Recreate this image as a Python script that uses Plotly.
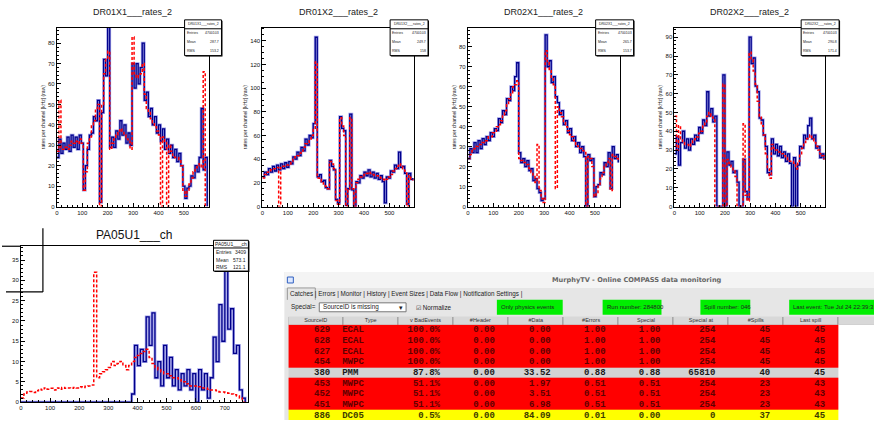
import plotly.graph_objects as go

W, H = 874, 423

# ---------------- data ----------------
BIN_TOP = 8     # channel width of each listed value (top histograms)
BIN_PA = 10     # channel width (PA05U1)

dr01x1_blue = [24, 33, 26, 31, 28, 34, 27, 35, 29, 34,
               28, 35, 31, 8, 20, 28, 35, 36, 44, 42,
               52, 2, 46, 72, 64, 88, 29, 34, 29, 37,
               33, 42, 35, 40, 31, 36, 30, 70, 58, 70,
               60, 68, 80, 52, 56, 44, 48, 40, 44, 36,
               40, 32, 38, 28, 33, 26, 30, 24, 28, 22,
               26, 20, 10, 4, 9, 10, 15, 14, 20, 17,
               24, 48, 18, 24, 0]
dr01x1_red = [27, 52, 28, 28, 29, 28, 30, 32, 31, 32,
              31, 33, 31, 8, 17, 31, 34, 40, 42, 48,
              50, 0, 50, 65, 72, 76, 28, 31, 33, 35,
              37, 38, 37, 35, 33, 32, 28, 83, 65, 63,
              64, 65, 70, 55, 48, 46, 43, 41, 39, 37,
              35, 0, 34, 32, 0, 30, 27, 25, 24, 24,
              23, 20, 8, 5, 8, 11, 14, 17, 19, 20,
              21, 19, 66, 0, 0]

dr01x2_blue = [25, 29, 27, 32, 29, 34, 30, 35, 31, 36,
               32, 37, 33, 38, 36, 42, 40, 46, 43, 50,
               47, 57, 52, 60, 58, 70, 143, 25, 27, 21,
               22, 16, 15, 39, 34, 31, 6, 3, 76, 66,
               64, 1, 15, 78, 14, 0, 21, 20, 26, 24,
               29, 26, 31, 25, 29, 24, 28, 23, 26, 21,
               3, 25, 24, 30, 29, 35, 32, 46, 33, 34,
               28, 2, 28, 23, 24]
dr01x2_red = [24, 27, 29, 30, 31, 32, 32, 33, 0, 33,
              34, 35, 35, 36, 38, 40, 42, 43, 45, 47,
              50, 53, 54, 57, 60, 65, 122, 24, 23, 21,
              19, 17, 15, 38, 36, 32, 5, 2, 75, 68,
              60, 0, 14, 75, 15, 0, 20, 23, 25, 26,
              27, 28, 29, 28, 27, 26, 26, 25, 24, 23,
              22, 23, 25, 27, 30, 32, 34, 36, 34, 32,
              30, 0, 26, 23, 22]

dr02x1_blue = [24, 29, 27, 32, 27, 33, 29, 34, 31, 35,
               33, 37, 35, 39, 38, 44, 42, 48, 46, 54,
               53, 60, 58, 65, 72, 27, 22, 24, 20, 23,
               18, 19, 13, 14, 9, 7, 3, 4, 86, 70,
               73, 62, 65, 55, 52, 46, 48, 41, 43, 37,
               39, 33, 35, 30, 32, 27, 30, 25, 0, 26,
               23, 24, 5, 10, 11, 17, 16, 22, 20, 27,
               9, 30, 24, 26, 22]
dr02x1_red = [24, 26, 28, 29, 30, 31, 31, 32, 33, 33,
              35, 35, 37, 37, 40, 41, 43, 46, 48, 51,
              54, 57, 60, 61, 63, 24, 23, 22, 22, 21,
              19, 17, 15, 12, 31, 8, 4, 2, 78, 72,
              68, 64, 61, 9, 50, 47, 45, 42, 40, 38,
              36, 35, 33, 31, 30, 29, 28, 27, 0, 25,
              24, 20, 5, 7, 11, 14, 17, 20, 22, 24,
              8, 26, 25, 24, 23]

dr02x2_blue = [28, 37, 22, 34, 40, 31, 36, 30, 36, 33,
               38, 35, 42, 39, 46, 43, 61, 48, 52, 45,
               48, 0, 0, 0, 70, 0, 29, 22, 24, 18,
               19, 13, 0, 0, 25, 8, 4, 90, 76, 79,
               64, 61, 47, 46, 38, 32, 18, 17, 36, 28,
               33, 27, 32, 26, 29, 24, 28, 23, 0, 26,
               0, 22, 32, 31, 38, 36, 43, 47, 36, 38,
               31, 32, 26, 28, 25]
dr02x2_red = [48, 30, 43, 36, 34, 33, 33, 32, 34, 35,
              36, 37, 39, 40, 43, 45, 48, 50, 48, 47,
              0, 0, 0, 0, 65, 0, 25, 23, 21, 19,
              16, 0, 0, 0, 44, 6, 3, 82, 78, 72,
              65, 56, 48, 43, 38, 28, 20, 15, 33, 31,
              30, 29, 29, 28, 27, 26, 25, 24, 24, 23,
              20, 24, 28, 31, 34, 36, 37, 38, 36, 34,
              32, 30, 28, 27, 25]

pa05u1_blue = [0, 0, 0, 0, 0, 0, 0, 0, 0, 0,
               0, 0, 0, 0, 0, 0, 0, 0, 0, 0,
               0, 0, 0, 0, 0, 0, 0, 0, 0, 0,
               0, 0, 0, 0, 0, 0, 0, 0,
               2, 14, 9, 13, 10, 21, 14, 22, 6, 10,
               4, 14, 6, 11, 4, 8, 3, 7, 4, 8,
               3, 7, 0, 8, 3, 7, 1, 6, 16, 10,
               24, 15, 36, 18, 23, 12, 14, 3, 1, 0]
pa05u1_red = [1, 2, 2.5, 2.6, 2.4, 2.8, 3.2, 3, 3.5, 3.2,
              3.4, 3.0, 3.5, 3.2, 3.6, 3.4, 3.5, 3.4, 3.6, 3.5,
              3.8, 3.6, 3.9, 4, 4.2, 32, 6, 7, 7.5, 8,
              8.5, 10, 9, 9.5, 10, 9, 8, 9, 10, 11,
              11.5, 12, 12.5, 13, 11, 9.5, 8.5, 8, 7.5, 7,
              7, 6.5, 6, 6, 5.5, 5, 5, 4.5, 4, 4,
              4, 3.8, 3.5, 3.5, 3.2, 3, 3, 2.8, 2.5, 2.5,
              2.3, 2.2, 2, 1.8, 1.5, 1, 0, 0]

top_titles = ["DR01X1___rates_2", "DR01X2___rates_2", "DR02X1___rates_2", "DR02X2___rates_2"]
top_means = ["287.7", "249.7", "265.7", "290.8"]
top_rms = ["153.2", "158", "153.7", "171.4"]
top_entries = ["4700103", "4700103", "4700103", "4700103"]
y_title = "rates per channel [kHz] (raw)"

pa_title = "PA05U1___ch"
pa_entries, pa_mean, pa_rms = "3409", "573.1", "121.1"

tbl_header = ["SourceID", "Type", "v BadEvents", "#Header", "#Data", "#Errors",
              "Special", "Special at", "#Spills", "Last spill", ""]
source_id = ["629", "628", "627", "454", "380", "453", "452", "451", "886"]
det_type = ["ECAL", "ECAL", "ECAL", "MWPC", "PMM", "MWPC", "MWPC", "MWPC", "DC05"]
bad_events = ["100.0%", "100.0%", "100.0%", "100.0%", "87.8%", "51.1%", "51.1%", "51.1%", "0.5%"]
n_header = ["0.00", "0.00", "0.00", "0.00", "0.00", "0.00", "0.00", "0.00", "0.00"]
n_data = ["0.00", "0.00", "0.00", "0.00", "33.52", "1.97", "3.51", "6.98", "84.09"]
n_errors = ["1.00", "1.00", "1.00", "1.00", "0.88", "0.51", "0.51", "0.51", "0.01"]
special = ["1.00", "1.00", "1.00", "1.00", "0.88", "0.51", "0.51", "0.51", "0.00"]
special_at = ["254", "254", "254", "254", "65810", "254", "254", "254", "0"]
n_spills = ["45", "45", "45", "45", "40", "23", "23", "23", "37"]
last_spill = ["45", "45", "45", "45", "45", "43", "43", "43", "45"]
row_status = ["red", "red", "red", "red", "gray", "red", "red", "red", "yellow"]

tabs = ["Catches", "Errors", "Monitor", "History", "Event Sizes", "Data Flow", "Notification Settings"]

# ---------------- helpers ----------------
def fx(p):
    return p / W

def fy(p):
    return 1 - p / H

fig = go.Figure()
shapes = []
annos = []

BLUE = "#00008b"
HALO = "rgba(70,70,210,0.5)"
RED = "#ff0000"
FONT = "Liberation Sans"

def hist_traces(xa, ya, xs, blue, red):
    fig.add_trace(go.Scatter(x=xs, y=blue, xaxis=xa, yaxis=ya, mode="lines",
                             line=dict(color=HALO, width=2.8, shape="hv"),
                             hoverinfo="skip", showlegend=False))
    fig.add_trace(go.Scatter(x=xs, y=blue, xaxis=xa, yaxis=ya, mode="lines",
                             line=dict(color=BLUE, width=1.3, shape="hv"),
                             showlegend=False))
    fig.add_trace(go.Scatter(x=xs, y=red, xaxis=xa, yaxis=ya, mode="lines",
                             line=dict(color=RED, width=1.5, dash="3px,2px", shape="hv"),
                             showlegend=False))

def axis_style(dom, anchor, rng, dtick, mdtick, title=None):
    d = dict(domain=dom, anchor=anchor, range=rng, showline=True, linecolor="black",
             linewidth=1, mirror=True, ticks="inside", ticklen=4, tickcolor="black",
             tickwidth=1, dtick=dtick, tick0=0,
             tickfont=dict(size=6, family=FONT, color="#111"),
             showgrid=False, zeroline=False,
             minor=dict(ticks="inside", ticklen=2, dtick=mdtick, tick0=0, tickcolor="black"))
    if title:
        d["title"] = dict(text=title, font=dict(size=5, family=FONT, color="#222"), standoff=2)
    return d

def stats_box(x0, y0, x1, y1, head, rows, fs):
    shapes.append(dict(type="rect", xref="paper", yref="paper", x0=fx(x0 + 1), x1=fx(x1 + 1),
                       y0=fy(y0 + 1), y1=fy(y1 + 1), fillcolor="black", line=dict(width=0)))
    shapes.append(dict(type="rect", xref="paper", yref="paper", x0=fx(x0), x1=fx(x1),
                       y0=fy(y0), y1=fy(y1), fillcolor="white", line=dict(color="black", width=1)))
    hh = (y1 - y0) / (len(rows) + 1)
    shapes.append(dict(type="line", xref="paper", yref="paper", x0=fx(x0), x1=fx(x1),
                       y0=fy(y0 + hh), y1=fy(y0 + hh), line=dict(color="black", width=1)))
    annos.append(dict(x=fx((x0 + x1) / 2), y=fy(y0 + hh / 2), xref="paper", yref="paper",
                      text=head, showarrow=False, font=dict(size=fs, family=FONT, color="#222"),
                      xanchor="center", yanchor="middle"))
    for i, (lab, val) in enumerate(rows):
        yc = y0 + hh * (i + 1.5)
        annos.append(dict(x=fx(x0 + 1), y=fy(yc), xref="paper", yref="paper", text=lab,
                          showarrow=False, font=dict(size=fs, family=FONT, color="#222"),
                          xanchor="left", yanchor="middle", xshift=-1))
        annos.append(dict(x=fx(x1 - 1), y=fy(yc), xref="paper", yref="paper", text=val,
                          showarrow=False, font=dict(size=fs, family=FONT, color="#222"),
                          xanchor="right", yanchor="middle", xshift=1))

# ---------------- top histograms ----------------
panels = [
    (dr01x1_blue, dr01x1_red, (55, 207), 87.5, 10, 2, (183, 220)),
    (dr01x2_blue, dr01x2_red, (261, 413), 151, 20, 5, (389, 427)),
    (dr02x1_blue, dr02x1_red, (467, 619), 89.5, 10, 2, (595, 633)),
    (dr02x2_blue, dr02x2_red, (674, 825), 95, 10, 2, (801, 839)),
]
layout_axes = {}
for i, (b, r, (l, rr), ymax, dt, mdt, (sx0, sx1)) in enumerate(panels):
    k = i + 1
    xs = [BIN_TOP * j for j in range(len(b))]
    xn = "x" if k == 1 else f"x{k}"
    yn = "y" if k == 1 else f"y{k}"
    hist_traces(xn, yn, xs, b, r)
    layout_axes["xaxis" if k == 1 else f"xaxis{k}"] = axis_style(
        [fx(l), fx(rr)], yn, [0, 597], 100, 20)
    layout_axes["yaxis" if k == 1 else f"yaxis{k}"] = axis_style(
        [fy(208), fy(28)], xn, [0, ymax], dt, mdt, y_title)
    annos.append(dict(x=fx((l + rr) / 2), y=fy(12), xref="paper", yref="paper",
                      text=top_titles[i], showarrow=False,
                      font=dict(size=9, family=FONT, color="#222"), xanchor="center", yanchor="middle"))
    stats_box(sx0, 20, sx1, 56, top_titles[i],
              [("Entries", top_entries[i]), ("Mean", top_means[i]), ("RMS", top_rms[i])], 3.5)

# ---------------- PA05U1 ----------------
xs5 = [BIN_PA * j for j in range(len(pa05u1_blue))]
hist_traces("x5", "y5", xs5, pa05u1_blue, pa05u1_red)
layout_axes["xaxis5"] = axis_style([fx(19), fx(247)], "y5", [0, 781], 100, 20)
layout_axes["yaxis5"] = axis_style([fy(405), fy(248)], "x5", [0, 38.4], 5, 1)
annos.append(dict(x=fx(133), y=fy(237), xref="paper", yref="paper", text=pa_title,
                  showarrow=False, font=dict(size=12, family=FONT, color="#111"),
                  xanchor="center", yanchor="middle"))
stats_box(212, 242, 247, 273, pa_title,
          [("Entries", pa_entries), ("Mean", pa_mean), ("RMS", pa_rms)], 5)
# stray window frame lines at bottom-left
shapes.append(dict(type="line", xref="paper", yref="paper", x0=fx(41), x1=fx(41),
                   y0=fy(230), y1=fy(294), line=dict(color="black", width=1.2)))
shapes.append(dict(type="line", xref="paper", yref="paper", x0=fx(4), x1=fx(41),
                   y0=fy(294), y1=fy(294), line=dict(color="black", width=1.2)))
shapes.append(dict(type="line", xref="paper", yref="paper", x0=fx(0), x1=fx(19),
                   y0=fy(248), y1=fy(248), line=dict(color="black", width=1.2)))

# ---------------- MurphyTV window ----------------
shapes.append(dict(type="rect", xref="paper", yref="paper", x0=fx(283), x1=fx(874),
                   y0=fy(423), y1=fy(274), fillcolor="#e6e6e6", line=dict(width=0), layer="below"))
shapes.append(dict(type="rect", xref="paper", yref="paper", x0=fx(283), x1=fx(874),
                   y0=fy(290), y1=fy(274), fillcolor="#f4f4f4", line=dict(width=0), layer="below"))
shapes.append(dict(type="rect", xref="paper", yref="paper", x0=fx(286), x1=fx(292),
                   y0=fy(285), y1=fy(279), fillcolor="#dde8ff", line=dict(color="#3060c0", width=1)))
annos.append(dict(x=fx(636), y=fy(282), xref="paper", yref="paper",
                  text="<b>MurphyTV - Online COMPASS data monitoring</b>", showarrow=False,
                  font=dict(size=6.6, family="DejaVu Sans", color="#666"),
                  xanchor="center", yanchor="middle"))
# selected tab frame
shapes.append(dict(type="path", xref="paper", yref="paper",
                   path=f"M {fx(286)},{fy(302)} L {fx(286)},{fy(290)} L {fx(314)},{fy(290)} L {fx(314)},{fy(302)}",
                   line=dict(color="#999", width=1)))
annos.append(dict(x=fx(287), y=fy(296), xref="paper", yref="paper",
                  text=" | ".join(tabs) + " |",
                  showarrow=False, font=dict(size=6.3, family=FONT, color="#222"),
                  xanchor="left", yanchor="middle"))
annos.append(dict(x=fx(288), y=fy(309.5), xref="paper", yref="paper", text="Special=",
                  showarrow=False, font=dict(size=6.3, family=FONT, color="#222"),
                  xanchor="left", yanchor="middle"))
shapes.append(dict(type="rect", xref="paper", yref="paper", x0=fx(318), x1=fx(405),
                   y0=fy(314), y1=fy(305), fillcolor="white", line=dict(color="#777", width=1)))
annos.append(dict(x=fx(320), y=fy(309.5), xref="paper", yref="paper", text="SourceID is missing",
                  showarrow=False, font=dict(size=6.3, family=FONT, color="#222"),
                  xanchor="left", yanchor="middle"))
annos.append(dict(x=fx(400), y=fy(309.5), xref="paper", yref="paper", text="\u25be",
                  showarrow=False, font=dict(size=7, family=FONT, color="#222"),
                  xanchor="center", yanchor="middle"))
annos.append(dict(x=fx(413), y=fy(309.5), xref="paper", yref="paper", text="\u2611 Normalize",
                  showarrow=False, font=dict(size=6.3, family=FONT, color="#222"),
                  xanchor="left", yanchor="middle"))
for (x0, x1, txt) in [(496, 562, "Only physics events"), (602, 661, "Run number: 284800"),
                      (700, 750, "Spill number: 046"), (789, 874, "Last event: Tue Jul 24 22:39:3")]:
    shapes.append(dict(type="rect", xref="paper", yref="paper", x0=fx(x0), x1=fx(x1),
                       y0=fy(317), y1=fy(302), fillcolor="#00ee00", line=dict(width=0)))
    annos.append(dict(x=fx(x0 + 2), y=fy(309.5), xref="paper", yref="paper", text=txt,
                      showarrow=False, font=dict(size=6.0, family=FONT, color="#222"),
                      xanchor="left", yanchor="middle"))

# ---------------- table (heatmap cells + text) ----------------
col_w = [55, 55, 55, 55, 56, 55, 55, 55, 55, 55, 37]
col_edges = [0]
for w_ in col_w:
    col_edges.append(col_edges[-1] + w_)
HEAD_H, ROW_H = 8, 10.75
row_edges = [HEAD_H + ROW_H * i for i in range(len(source_id) + 1)]
TOP = 319
code = {"red": 0, "gray": 1, "yellow": 2}
z_body = [[code[s]] * 10 + [3] for s in row_status]
cs = [[0, "#ff0000"], [0.1667, "#ff0000"], [0.1667, "#d3d3d3"], [0.5, "#d3d3d3"],
      [0.5, "#ffff00"], [0.8333, "#ffff00"], [0.8333, "#ffffff"], [1, "#ffffff"]]
fig.add_trace(go.Heatmap(x=col_edges, y=row_edges, z=z_body, zmin=0, zmax=3, colorscale=cs,
                         showscale=False, xaxis="x6", yaxis="y6", hoverinfo="skip"))
fig.add_trace(go.Heatmap(x=col_edges, y=[0, HEAD_H], z=[[0] * 11], zmin=0, zmax=1,
                         colorscale=[[0, "#d8d8d8"], [1, "#d8d8d8"]], xgap=1, ygap=0,
                         showscale=False, xaxis="x6", yaxis="y6", hoverinfo="skip"))
shapes.append(dict(type="rect", xref="x6", yref="y6", x0=col_edges[0], x1=col_edges[-1],
                   y0=0, y1=HEAD_H, fillcolor="#8a8a8a", line=dict(width=0), layer="below"))
# header text
fig.add_trace(go.Scatter(x=[(col_edges[i] + col_edges[i + 1]) / 2 for i in range(11)],
                         y=[HEAD_H / 2] * 11, text=tbl_header, mode="text",
                         textfont=dict(size=5.5, family=FONT, color="#333"),
                         xaxis="x6", yaxis="y6", hoverinfo="skip", showlegend=False))
fc_map = {"red": "#5e0000", "gray": "#1a1a1a", "yellow": "#3c3c00"}
row_c = [(row_edges[i] + row_edges[i + 1]) / 2 for i in range(len(source_id))]
row_fc = [fc_map[s] for s in row_status]
right_cols = [(0, source_id), (2, bad_events), (3, n_header), (4, n_data), (5, n_errors),
              (6, special), (7, special_at), (8, n_spills), (9, last_spill)]
for ci, vals in right_cols:
    fig.add_trace(go.Scatter(x=[col_edges[ci + 1] - 13] * len(vals), y=row_c,
                             text=[f"<b>{v}</b>" for v in vals], mode="text",
                             textposition="middle left",
                             textfont=dict(size=9, family="Liberation Mono", color=row_fc),
                             xaxis="x6", yaxis="y6", hoverinfo="skip", showlegend=False))
fig.add_trace(go.Scatter(x=[col_edges[1] - 1] * len(det_type), y=row_c,
                         text=[f"<b>{v}</b>" for v in det_type], mode="text",
                         textposition="middle right",
                         textfont=dict(size=9, family="Liberation Mono", color=row_fc),
                         xaxis="x6", yaxis="y6", hoverinfo="skip", showlegend=False))
layout_axes["xaxis6"] = dict(domain=[fx(287), 1.0], anchor="y6", range=[0, W - 287],
                             visible=False, fixedrange=True)
layout_axes["yaxis6"] = dict(domain=[0, fy(TOP)], anchor="x6", range=[H - TOP, 0],
                             visible=False, fixedrange=True)

fig.update_layout(width=W, height=H, margin=dict(l=0, r=0, t=0, b=0),
                  paper_bgcolor="white", plot_bgcolor="rgba(0,0,0,0)", showlegend=False,
                  shapes=shapes, annotations=annos, **layout_axes)
fig.write_html("out.html")
